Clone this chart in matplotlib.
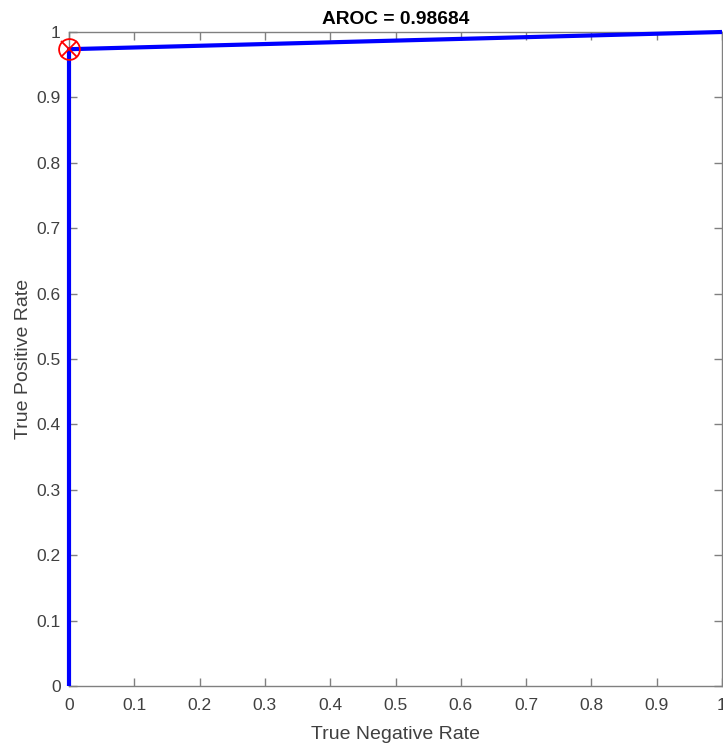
import matplotlib.pyplot as plt

# ROC curve points (true negative rate, true positive rate)
tnr = [0.0, 0.0, 1.0]
tpr = [0.0, 0.9737, 1.0]
op_point = (0.0, 0.9737)
aroc = 0.98684

plt.rcParams['font.family'] = ['Liberation Sans', 'DejaVu Sans']

fig = plt.figure(figsize=(7.23, 7.44), dpi=100)
ax = fig.add_axes([69 / 723, 58 / 744, 653 / 723, 654 / 744])

ax.plot(tnr, tpr, color='#0000ff', lw=3, solid_capstyle='butt', clip_on=False, zorder=3)
ax.plot(*op_point, 'o', ms=15, mfc='none', mec='red', mew=1.3, clip_on=False, zorder=4)
ax.plot(*op_point, 'x', ms=11, mec='red', mew=1.3, clip_on=False, zorder=4)

ax.set_xlim(0, 1)
ax.set_ylim(0, 1)
ticks = [i / 10 for i in range(11)]
labels = ['0'] + ['%.1f' % t for t in ticks[1:-1]] + ['1']
ax.set_xticks(ticks, labels)
ax.set_yticks(ticks, labels)
ax.tick_params(direction='in', top=True, right=True, length=6, width=1,
               color='#808080', labelcolor='#404040', labelsize=12.5, pad=6)
ax.tick_params(axis='x', pad=9)
for s in ax.spines.values():
    s.set_color('#808080')
    s.set_linewidth(1)

ax.set_xlabel('True Negative Rate', fontsize=14, color='#404040', labelpad=9)
ax.set_ylabel('True Positive Rate', fontsize=14, color='#404040', labelpad=3)
ax.set_title('AROC = %.5f' % aroc, fontsize=13.8, fontweight='bold', pad=6)

fig.savefig('out.png', dpi=100)
